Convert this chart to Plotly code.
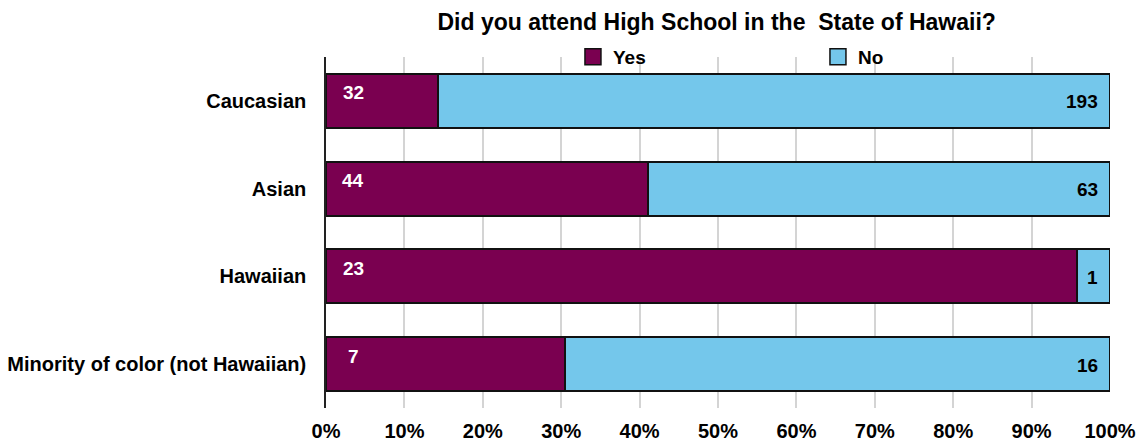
import plotly.graph_objects as go

# Survey responses by group
groups = ["Caucasian", "Asian", "Hawaiian", "Minority of color (not Hawaiian)"]
yes_counts = [32, 44, 23, 7]
no_counts = [193, 63, 1, 16]
x_ticks = [0, 10, 20, 30, 40, 50, 60, 70, 80, 90, 100]

YES_COLOR = "#7a0050"
NO_COLOR = "#74c7eb"
FONT = "Liberation Sans, Arial, Helvetica, sans-serif"

fig = go.Figure()
fig.add_trace(go.Bar(
    name="Yes", y=groups, x=yes_counts, orientation="h", showlegend=False,
    marker=dict(color=YES_COLOR, line=dict(color="#111111", width=2)),
))
fig.add_trace(go.Bar(
    name="No", y=groups, x=no_counts, orientation="h", showlegend=False,
    marker=dict(color=NO_COLOR, line=dict(color="#111111", width=2)),
))

# Legend entries with larger square swatches
for name, color in [("Yes", YES_COLOR), ("No", NO_COLOR)]:
    fig.add_trace(go.Scatter(
        name=f"<b>{name}</b>", x=[None], y=[None], mode="markers",
        marker=dict(symbol="square", size=16, color=color,
                    line=dict(color="#111111", width=1.5)),
    ))

# Count labels: "Yes" near the left end, "No" near the right end
for g, yv, nv in zip(groups, yes_counts, no_counts):
    fig.add_annotation(x=0, y=g, text=f"<b>{yv}</b>", showarrow=False,
                       xanchor="center", xshift=27, yshift=8,
                       font=dict(family=FONT, size=19, color="white"))
    fig.add_annotation(x=100, y=g, text=f"<b>{nv}</b>", showarrow=False,
                       xanchor="right", xshift=-10, yshift=-1,
                       font=dict(family=FONT, size=19, color="black"))

fig.update_layout(
    width=1143, height=443,
    barmode="stack", barnorm="percent", bargap=0.385,
    plot_bgcolor="white", paper_bgcolor="white",
    margin=dict(l=326, r=33, t=57, b=35),
    font=dict(family=FONT, size=19, color="black"),
    title=dict(text="<b>Did you attend High School in the  State of Hawaii?</b>",
               x=0.627, xanchor="center", y=0.95, yanchor="middle",
               font=dict(family=FONT, size=23, color="black")),
    legend=dict(orientation="h", x=0.315, xanchor="left", y=1.0,
                yanchor="middle", bgcolor="rgba(0,0,0,0)",
                traceorder="normal",
                entrywidth=200, entrywidthmode="pixels",
                font=dict(family=FONT, size=19, color="black")),
    showlegend=True,
)
fig.update_xaxes(
    range=[0, 100], tickvals=x_ticks,
    ticktext=[f"<b>{t}%</b>" for t in x_ticks],
    showgrid=True, gridcolor="#d4d4d4", gridwidth=1.5,
    zeroline=False, showline=False, ticks="",
    ticklabelstandoff=9, automargin=False,
    tickfont=dict(family=FONT, size=20, color="black"),
)
fig.update_yaxes(
    autorange="reversed", automargin=False,
    ticktext=[f"<b>{g}</b>" for g in groups], tickvals=groups,
    showline=True, linecolor="#222222", linewidth=1.5,
    ticks="", ticklabelstandoff=14,
    tickfont=dict(family=FONT, size=20, color="black"),
)

fig.write_html("out.html")
